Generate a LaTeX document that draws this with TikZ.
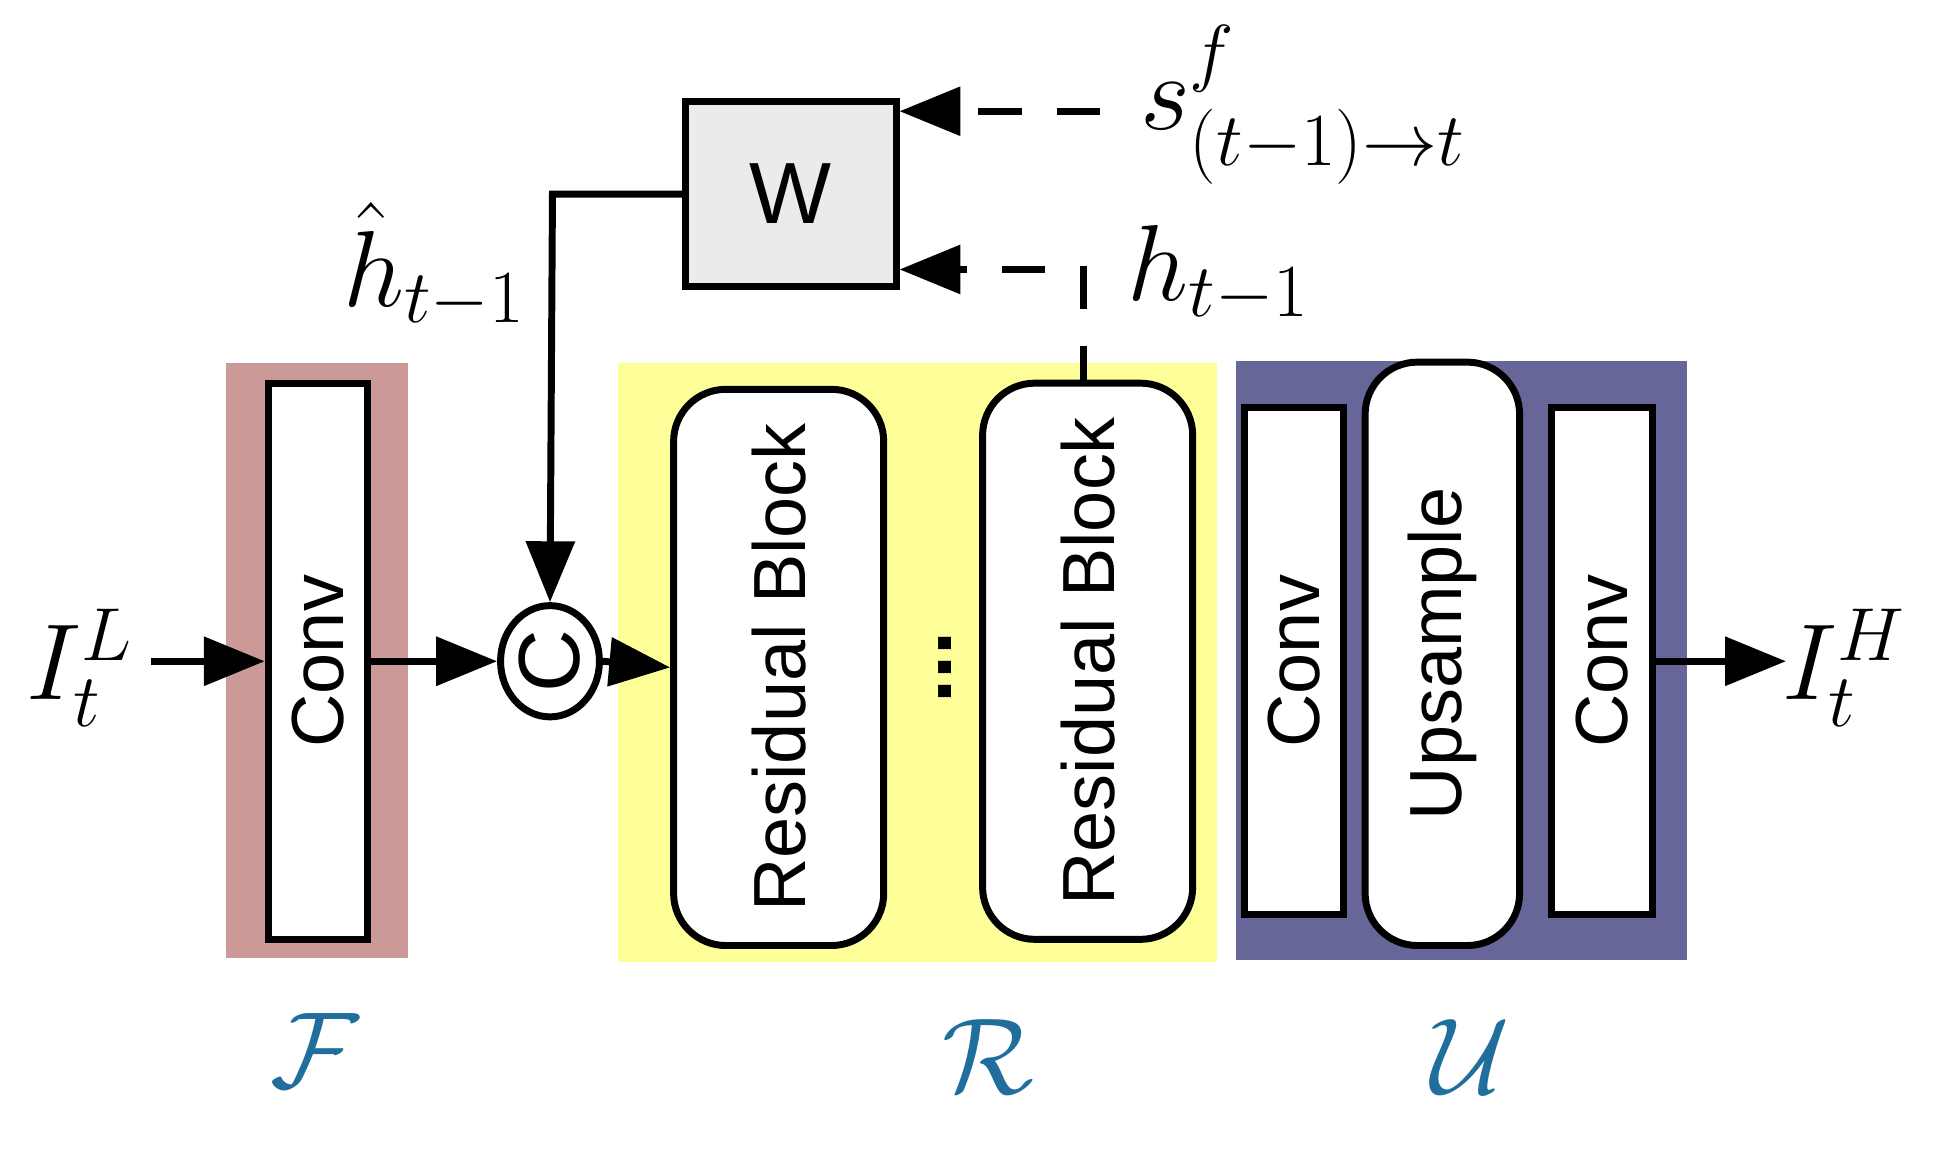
\documentclass[tikz,border=0pt]{standalone}
\usepackage{fontspec}
\setmainfont{Liberation Sans}
\usepackage{amsmath}
\usetikzlibrary{shapes.geometric,arrows.meta}
\definecolor{pinkbg}{HTML}{CC9999}
\definecolor{yelbg}{HTML}{FFFF99}
\definecolor{bluebg}{HTML}{666699}
\definecolor{calblue}{HTML}{1F6E9C}
\begin{document}
\begin{tikzpicture}[x=0.01cm,y=-0.01cm,
  blk/.style={draw=black,line width=1.6pt,fill=white},
  lbl/.style={rotate=90,font=\fontsize{17}{17}\selectfont},
  arr/.style={line width=1.6pt,-{Triangle[length=14pt,width=11pt]}},
  darr/.style={line width=1.6pt,dash pattern=on 10pt off 8pt,-{Triangle[length=14pt,width=11pt]}},
  mlab/.style={font=\fontsize{24}{24}\selectfont},
  cal/.style={text=calblue,font=\fontsize{28}{28}\selectfont}]
\useasboundingbox (0,0) rectangle (1568,945);
\fill[pinkbg] (183,294) rectangle (330,775);
\fill[yelbg] (500,294) rectangle (985,778);
\fill[bluebg] (1000,292) rectangle (1365,777);
\node[blk,minimum width=80*0.01cm,minimum height=450*0.01cm] (conv1) at (257,535) {};
\node[lbl] at (257,535) {Conv};
\node[blk,rounded corners=12pt,minimum width=170*0.01cm,minimum height=450*0.01cm] (rb1) at (630,540) {};
\node[lbl] at (630,540) {Residual Block};
\node[blk,rounded corners=12pt,minimum width=170*0.01cm,minimum height=450*0.01cm] (rb2) at (880,535) {};
\node[lbl] at (880,535) {Residual Block};
\node[lbl,font=\fontsize{20}{20}\selectfont\bfseries] (dots) at (765,540) {...};
\node[blk,minimum width=80*0.01cm,minimum height=410*0.01cm] (conv2) at (1047,535) {};
\node[lbl] at (1047,535) {Conv};
\node[blk,rounded corners=12pt,minimum width=125*0.01cm,minimum height=472*0.01cm] (up) at (1167,529) {};
\node[lbl] at (1167,529) {Upsample};
\node[blk,minimum width=82*0.01cm,minimum height=410*0.01cm] (conv3) at (1296,535) {};
\node[lbl] at (1296,535) {Conv};
\node[draw,line width=1.6pt,ellipse,fill=white,minimum width=80*0.01cm,minimum height=90*0.01cm,inner sep=0] (cat) at (445,535) {\rotatebox{90}{\fontsize{20}{20}\selectfont C}};
\node[draw,line width=1.6pt,fill=black!8,minimum width=170*0.01cm,minimum height=150*0.01cm] (w) at (640,157) {\fontsize{20}{20}\selectfont W};
\node[mlab] (il) at (65,540) {$I_t^L$};
\node[mlab] (ih) at (1492,540) {$I_t^H$};
\node[mlab,anchor=west] (s) at (910,85) {$s^{f}_{(t-1)\to t}$};
\node[mlab,anchor=west] (h) at (900,222) {$h_{t-1}$};
\node[mlab,anchor=east] (hh) at (438,215) {$\hat{h}_{t-1}$};
\node[cal] at (255,850) {$\mathcal{F}$};
\node[cal] at (800,855) {$\mathcal{R}$};
\node[cal] at (1190,855) {$\mathcal{U}$};
\coordinate (inpt) at (122,535);
\draw[arr] (inpt) -- (conv1.west);
\draw[arr] (conv1.east) -- (cat.west);
\draw[arr] (cat.east) -- (rb1.west);
\coordinate (outp) at (1445,535);
\draw[arr] (conv3.east) -- (outp);
\draw[arr] (w.west) -- (447,157) -- (cat.north);
\coordinate (sst) at (890,90);
\draw[darr] (sst) -- (w.east |- sst);
\coordinate (hc) at (877,218);
\draw[line width=1.6pt] (rb2.north -| hc) -- (877,280);
\draw[darr] (877,250) -- (hc) -- (w.east |- hc);
\end{tikzpicture}
\end{document}
